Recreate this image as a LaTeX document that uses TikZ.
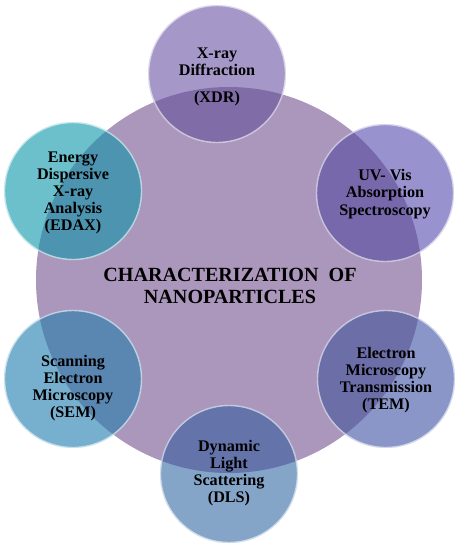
\documentclass[tikz,border=0pt]{standalone}
\usepackage{fontspec}
\setmainfont{Liberation Serif}
\definecolor{bigc}{RGB}{172,151,188}
\definecolor{xdrA}{RGB}{166,151,201}
\definecolor{xdrB}{RGB}{128,108,166}
\definecolor{edaxA}{RGB}{108,192,204}
\definecolor{edaxB}{RGB}{76,148,175}
\definecolor{uvA}{RGB}{152,147,206}
\definecolor{uvB}{RGB}{118,104,170}
\definecolor{semA}{RGB}{118,176,206}
\definecolor{semB}{RGB}{90,135,178}
\definecolor{temA}{RGB}{138,150,200}
\definecolor{temB}{RGB}{108,110,168}
\definecolor{dlsA}{RGB}{132,165,200}
\definecolor{dlsB}{RGB}{100,115,170}
\begin{document}
\begin{tikzpicture}[x=0.025cm,y=-0.025cm,
    txt/.style={align=center,font=\fontsize{11.5}{12.2}\selectfont\bfseries},
    ttl/.style={align=center,font=\fontsize{14.3}{15.6}\selectfont\bfseries}]
    \useasboundingbox (0,0) rectangle (458,550);
    \fill[bigc] (229,280) circle [radius=193];
    \foreach \px/\py/\col in {217/74/xdr,73/191/edax,385/193/uv,73/379/sem,386/379/tem,229/474/dls}{
        \fill[\col A] (\px,\py) circle [radius=69];
        \begin{scope}
            \clip (229,280) circle [radius=193];
            \fill[\col B] (\px,\py) circle [radius=69];
        \end{scope}
        \draw[white,opacity=0.6,line width=1pt] (\px,\py) circle [radius=68.5];
    }
    \node[ttl] (title) at (230,286) {CHARACTERIZATION\ \ OF\\NANOPARTICLES};
    \node[txt] (xdr) at (217,77) {X-ray\\Diffraction\\[7pt](XDR)};
    \node[txt] (edax) at (73,193) {Energy\\Dispersive\\X-ray\\Analysis\\(EDAX)};
    \node[txt] (uv) at (385,194) {UV- Vis\\Absorption\\Spectroscopy};
    \node[txt] (sem) at (73,388) {Scanning\\Electron\\Microscopy\\(SEM)};
    \node[txt] (tem) at (386,380) {Electron\\Microscopy\\Transmission\\(TEM)};
    \node[txt] (dls) at (229,473) {Dynamic\\Light\\Scattering\\(DLS)};
\end{tikzpicture}
\end{document}
